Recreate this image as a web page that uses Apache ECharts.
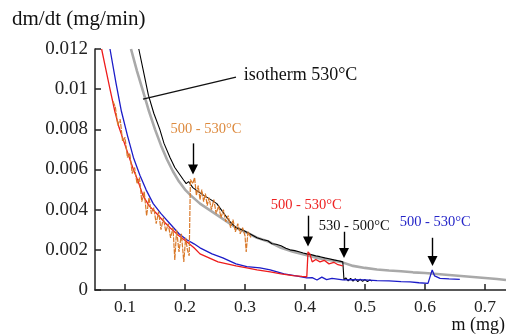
<!DOCTYPE html>
<html>
<head>
<meta charset="utf-8">
<script src="https://cdn.jsdelivr.net/npm/echarts@6/dist/echarts.min.js"></script>
<style>html,body{margin:0;padding:0;background:#fff}#c{width:506px;height:334px}</style>
</head>
<body>
<div id="c"></div>
<script>
// ---- data (m in mg, dm/dt in mg/min) ----
var xTicks = [0.1, 0.2, 0.3, 0.4, 0.5, 0.6, 0.7];
var xTickLabels = ['0.1', '0.2', '0.3', '0.4', '0.5', '0.6', '0.7'];
var yTicks = [0, 0.002, 0.004, 0.006, 0.008, 0.01, 0.012];
var yTickLabels = ['0', '0.002', '0.004', '0.006', '0.008', '0.01', '0.012'];

var isotherm530 = [
  [0.110,0.0120],[0.120,0.0109],[0.130,0.0099],[0.140,0.0089],[0.150,0.0080],[0.160,0.0072],
  [0.170,0.0065],[0.180,0.0059],[0.190,0.0054],[0.200,0.0050],[0.210,0.0047],[0.225,0.0043],
  [0.240,0.0040],[0.255,0.0037],[0.270,0.0034],[0.285,0.0031],[0.300,0.0029],[0.320,0.0026],
  [0.340,0.0024],[0.360,0.0021],[0.380,0.0019],[0.400,0.00175],[0.420,0.0016],[0.440,0.0015],
  [0.460,0.0014],[0.480,0.0012],[0.500,0.0011],[0.520,0.00102],[0.540,0.00097],[0.560,0.00093],
  [0.580,0.00088],[0.600,0.00085],[0.620,0.0008],[0.640,0.00075],[0.660,0.0007],[0.680,0.00065],
  [0.700,0.0006],[0.720,0.00055],[0.735,0.0005]
];

var run530to500 = [
  [0.123,0.0120],[0.130,0.0110],[0.139,0.0097],[0.148,0.0088],[0.158,0.0080],[0.165,0.0073],
  [0.175,0.0066],[0.183,0.0061],[0.190,0.0058],[0.197,0.0055],[0.202,0.0053],[0.206,0.0054],
  [0.213,0.0051],[0.222,0.0049],[0.232,0.0047],[0.243,0.0045],[0.253,0.0043],[0.265,0.0038],
  [0.275,0.0034],[0.285,0.0031],[0.295,0.0030],[0.308,0.0028],[0.314,0.0027],[0.320,0.0026],
  [0.330,0.0025],[0.338,0.00245],[0.345,0.0023],[0.352,0.00228],[0.360,0.0022],[0.368,0.00208],
  [0.375,0.0020],[0.383,0.00196],[0.390,0.0019],[0.397,0.00184],[0.403,0.0018],[0.410,0.00176],
  [0.418,0.0017],[0.425,0.00166],[0.433,0.0016],[0.440,0.00156],[0.448,0.0015],[0.455,0.00146],
  [0.463,0.0014],[0.465,0.0005],[0.468,0.0006],[0.472,0.00045],[0.476,0.00058],[0.480,0.00044],
  [0.484,0.00056],[0.488,0.00042],[0.492,0.00054],[0.496,0.00043],[0.500,0.00052],[0.504,0.00042],
  [0.508,0.0005],[0.512,0.00045]
];

var run500to530red = [
  [0.061,0.0120],[0.068,0.0110],[0.075,0.0100],[0.083,0.0089],[0.090,0.0081],[0.098,0.0074],
  [0.106,0.0067],[0.114,0.0060],[0.122,0.0054],[0.130,0.0047],[0.140,0.0042],[0.153,0.0038],
  [0.165,0.0034],[0.175,0.0031],[0.190,0.0027],[0.203,0.0024],[0.215,0.0021],[0.225,0.0018],
  [0.240,0.0016],[0.255,0.0014],[0.270,0.0013],[0.285,0.0012],[0.303,0.0011],[0.320,0.0010],
  [0.342,0.0009],[0.360,0.0008],[0.380,0.00072],[0.395,0.00068],[0.403,0.00066],[0.405,0.0019],
  [0.408,0.0018],[0.412,0.0014],[0.418,0.00152],[0.425,0.0014],[0.432,0.00148],[0.440,0.0013],
  [0.448,0.00138],[0.455,0.00126],[0.463,0.0012]
];

var run500to530blue = [
  [0.075,0.0120],[0.085,0.0103],[0.094,0.0089],[0.104,0.0077],[0.114,0.0066],[0.125,0.0057],
  [0.135,0.0050],[0.147,0.0043],[0.160,0.0038],[0.175,0.0033],[0.190,0.0028],[0.203,0.0025],
  [0.215,0.0023],[0.225,0.0021],[0.245,0.0018],[0.263,0.0016],[0.285,0.0013],[0.303,0.00116],
  [0.325,0.0011],[0.342,0.0010],[0.365,0.0008],[0.385,0.0007],[0.403,0.0006],[0.412,0.00062],
  [0.420,0.0005],[0.428,0.00064],[0.436,0.00052],[0.445,0.00058],[0.463,0.0005],[0.480,0.00052],
  [0.500,0.0005],[0.520,0.00047],[0.540,0.00045],[0.560,0.00042],[0.575,0.0004],[0.590,0.00036],
  [0.605,0.00033],[0.612,0.0010],[0.616,0.0007],[0.625,0.00058],[0.640,0.00055],[0.658,0.00053]
];

var run500to530orange = [
  [0.080,0.0094],[0.084,0.0091],[0.088,0.0082],[0.092,0.0085],[0.096,0.0074],[0.100,0.0076],
  [0.104,0.0066],[0.108,0.0068],[0.112,0.0058],[0.116,0.0061],[0.120,0.0053],[0.124,0.0056],
  [0.128,0.0044],[0.132,0.0049],[0.136,0.0037],[0.140,0.0046],[0.144,0.0038],[0.148,0.0041],
  [0.152,0.0033],[0.156,0.0039],[0.160,0.0030],[0.164,0.0036],[0.168,0.0029],[0.172,0.0033],
  [0.176,0.0026],[0.180,0.0031],[0.183,0.0015],[0.186,0.0030],[0.190,0.0019],[0.194,0.0028],
  [0.198,0.0014],[0.201,0.0026],[0.204,0.0020],[0.207,0.0017],[0.209,0.0055],[0.213,0.0053],
  [0.216,0.0056],[0.219,0.0047],[0.222,0.0052],[0.225,0.0045],[0.228,0.0050],[0.231,0.0044],
  [0.234,0.0048],[0.237,0.0042],[0.240,0.0046],[0.244,0.0040],[0.248,0.0045],[0.252,0.0038],
  [0.256,0.0042],[0.260,0.0036],[0.264,0.0040],[0.268,0.0034],[0.272,0.0037],[0.276,0.0031],
  [0.280,0.0035],[0.284,0.0029],[0.288,0.0033],[0.292,0.0028],[0.296,0.0031],[0.300,0.0027],
  [0.302,0.0019],[0.305,0.0029],[0.310,0.0026]
];

// ---- chart ----
var FONT = '"Liberation Serif", "Times New Roman", serif';
var chart = echarts.init(document.getElementById('c'), null, {renderer: 'canvas'});

function arrow(x, y1, y2) {
  return [{coord: [x, y1]}, {coord: [x, y2]}];
}
function label(x, y, text, color, size) {
  return {coord: [x, y], value: text,
    label: {show: true, position: 'inside', formatter: text, color: color,
            fontFamily: FONT, fontSize: size}};
}

chart.setOption({
  animation: false,
  backgroundColor: '#ffffff',
  grid: {left: 95, right: 0, top: 49, bottom: 44, containLabel: false},
  xAxis: {
    type: 'value', min: 0.05, max: 0.735,
    axisLine: {lineStyle: {color: '#222', width: 1.5}},
    axisTick: {inside: true, length: 6, customValues: xTicks, lineStyle: {color: '#222', width: 1.5}},
    axisLabel: {customValues: xTicks, margin: 8, color: '#222', fontFamily: FONT, fontSize: 17.5,
      formatter: function (v) { var i = xTicks.findIndex(function (t) { return Math.abs(t - v) < 1e-9; }); return i >= 0 ? xTickLabels[i] : ''; }},
    splitLine: {show: false}
  },
  yAxis: {
    type: 'value', min: 0, max: 0.012, interval: 0.002,
    axisLine: {show: true, lineStyle: {color: '#222', width: 1.5}},
    axisTick: {show: true, inside: true, length: 6, lineStyle: {color: '#222', width: 1.5}},
    axisLabel: {margin: 7, color: '#222', fontFamily: FONT, fontSize: 19,
      formatter: function (v) { var i = yTicks.findIndex(function (t) { return Math.abs(t - v) < 1e-9; }); return i >= 0 ? yTickLabels[i] : ''; }},
    splitLine: {show: false}
  },
  graphic: [
    {type: 'text', left: 12, top: 9, style: {text: 'dm/dt (mg/min)', fill: '#111', font: '21px ' + FONT}},
    {type: 'text', right: 1, top: 316, style: {text: 'm (mg)', fill: '#111', font: '18px ' + FONT}}
  ],
  series: [
    {name: 'isotherm 530°C', type: 'line', data: isotherm530, showSymbol: false, symbol: 'none',
     lineStyle: {color: '#a9a9a9', width: 2.6}, z: 1,
     markLine: {silent: true, symbol: ['none', 'none'], label: {show: false},
       lineStyle: {color: '#111', width: 1.3, type: 'solid'},
       data: [[{coord: [0.130, 0.0095]}, {coord: [0.285, 0.0106]}]]},
     markPoint: {silent: true, symbol: 'circle', symbolSize: 0, itemStyle: {color: 'transparent'},
       data: [label(0.3925, 0.0107, 'isotherm 530°C', '#111', 18)]}
    },
    {name: '530 - 500°C', type: 'line', data: run530to500, showSymbol: false, symbol: 'none',
     lineStyle: {color: '#000', width: 1.1}, z: 2},
    {name: '500 - 530°C blue', type: 'line', data: run500to530blue, showSymbol: false, symbol: 'none',
     lineStyle: {color: '#1c1cc8', width: 1.3}, z: 3},
    {name: '500 - 530°C red', type: 'line', data: run500to530red, showSymbol: false, symbol: 'none',
     lineStyle: {color: '#ee1c1c', width: 1.3}, z: 4},
    {name: '500 - 530°C orange', type: 'line', data: run500to530orange, showSymbol: false, symbol: 'none',
     lineStyle: {color: '#d9792a', width: 1.2, type: [5, 1]}, z: 5,
     markLine: {silent: true, symbol: ['none', 'triangle'], symbolSize: 10, label: {show: false},
       lineStyle: {color: '#000', width: 1.4, type: 'solid'}, itemStyle: {color: '#000'},
       data: [
         arrow(0.2133, 0.0073, 0.0060),
         arrow(0.405, 0.0037, 0.00241),
         arrow(0.465, 0.0029, 0.00184),
         arrow(0.6125, 0.0026, 0.00144)
       ]},
     markPoint: {silent: true, symbol: 'circle', symbolSize: 0, itemStyle: {color: 'transparent'},
       data: [
         label(0.235, 0.0080, '500 - 530°C', '#dd8a3e', 14.5),
         label(0.402, 0.00423, '500 - 530°C', '#ee2222', 14.5),
         label(0.482, 0.00319, '530 - 500°C', '#111', 14.5),
         label(0.617, 0.00339, '500 - 530°C', '#2525c8', 14.5)
       ]}
    }
  ]
});
</script>
</body>
</html>
